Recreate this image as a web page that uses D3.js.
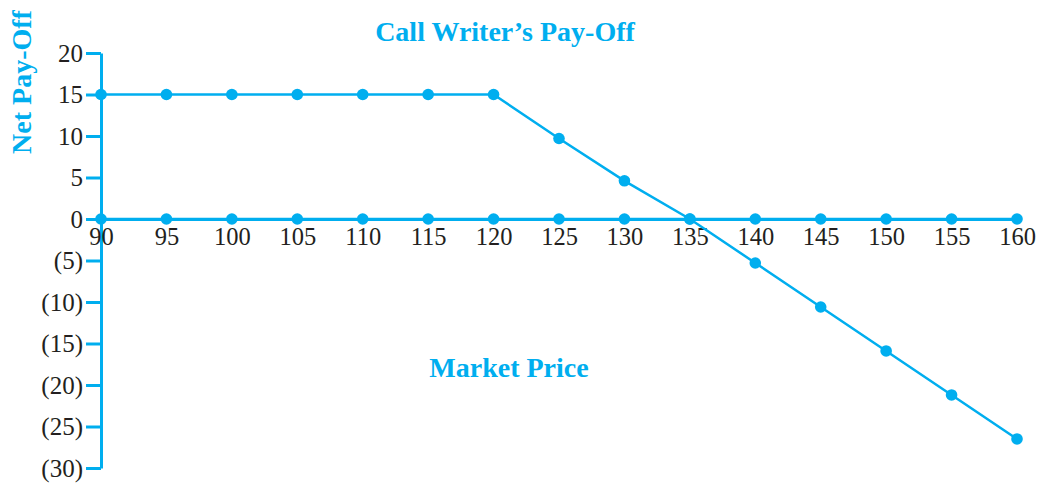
<!DOCTYPE html>
<html>
<head>
<meta charset="utf-8">
<script src="https://cdn.jsdelivr.net/npm/d3@7/dist/d3.min.js"></script>
<style>
  html, body { margin: 0; padding: 0; background: #fff; }
  svg { display: block; }
</style>
</head>
<body>
<svg id="chart" width="1041" height="485"></svg>
<script>
// Market prices of the underlying on the horizontal axis
const marketPrices = [90, 95, 100, 105, 110, 115, 120, 125, 130, 135, 140, 145, 150, 155, 160];
// Net pay-off of the call writer at each market price
const writerPayoff = [15, 15, 15, 15, 15, 15, 15, 9.7, 4.6, 0, -5.3, -10.6, -15.9, -21.2, -26.5];
// Reference series lying on the zero line
const zeroLine = [0, 0, 0, 0, 0, 0, 0, 0, 0, 0, 0, 0, 0, 0, 0];
// Vertical axis tick values
const yTicks = [20, 15, 10, 5, 0, -5, -10, -15, -20, -25, -30];

const cyan = "#00aeef";
const ink = "#231f20";
const serif = "'Liberation Serif', 'Times New Roman', serif";

const svg = d3.select("#chart");

const x = d3.scaleLinear().domain([90, 160]).range([101, 1017]);
const y = d3.scaleLinear().domain([-30, 20]).range([468, 53]);

// Vertical axis with bracketed negative values
const yAxis = d3.axisLeft(y)
  .tickValues(yTicks)
  .tickSize(15)
  .tickSizeOuter(0)
  .tickPadding(3)
  .tickFormat(v => v < 0 ? `(${-v})` : `${v}`);

const gy = svg.append("g")
  .attr("transform", `translate(${x(90)},0)`)
  .call(yAxis);
gy.select(".domain").attr("stroke", cyan).attr("stroke-width", 3);
gy.selectAll(".tick line").attr("stroke", cyan).attr("stroke-width", 3);
gy.selectAll(".tick text")
  .attr("fill", ink)
  .style("font-family", serif)
  .style("font-size", "25px");

// Horizontal axis along the zero line
const xAxis = d3.axisBottom(x)
  .tickValues(marketPrices)
  .tickSize(0)
  .tickSizeOuter(0)
  .tickPadding(9)
  .tickFormat(d3.format("d"));

const gx = svg.append("g")
  .attr("transform", `translate(0,${y(0)})`)
  .call(xAxis);
gx.select(".domain").attr("stroke", cyan).attr("stroke-width", 3);
gx.selectAll(".tick text")
  .attr("fill", ink)
  .style("font-family", serif)
  .style("font-size", "24.5px");

// Series drawing helper
function drawSeries(values) {
  const pts = marketPrices.map((p, i) => ({ p, v: values[i] }));
  svg.append("path")
    .datum(pts)
    .attr("fill", "none")
    .attr("stroke", cyan)
    .attr("stroke-width", 2.5)
    .attr("d", d3.line().x(d => x(d.p)).y(d => y(d.v)));
  svg.append("g")
    .selectAll("circle")
    .data(pts)
    .join("circle")
    .attr("cx", d => x(d.p))
    .attr("cy", d => y(d.v))
    .attr("r", 5.8)
    .attr("fill", cyan);
}

drawSeries(zeroLine);
drawSeries(writerPayoff);

// Titles
svg.append("text")
  .attr("x", 505)
  .attr("y", 41)
  .attr("text-anchor", "middle")
  .attr("fill", cyan)
  .style("font-family", serif)
  .style("font-weight", "bold")
  .style("font-size", "28px")
  .text("Call Writer’s Pay-Off");

svg.append("text")
  .attr("x", 509)
  .attr("y", 377)
  .attr("text-anchor", "middle")
  .attr("fill", cyan)
  .style("font-family", serif)
  .style("font-weight", "bold")
  .style("font-size", "28px")
  .text("Market Price");

svg.append("text")
  .attr("transform", "translate(31,82) rotate(-90)")
  .attr("text-anchor", "middle")
  .attr("fill", cyan)
  .style("font-family", serif)
  .style("font-weight", "bold")
  .style("font-size", "28px")
  .text("Net Pay-Off");
</script>
</body>
</html>
